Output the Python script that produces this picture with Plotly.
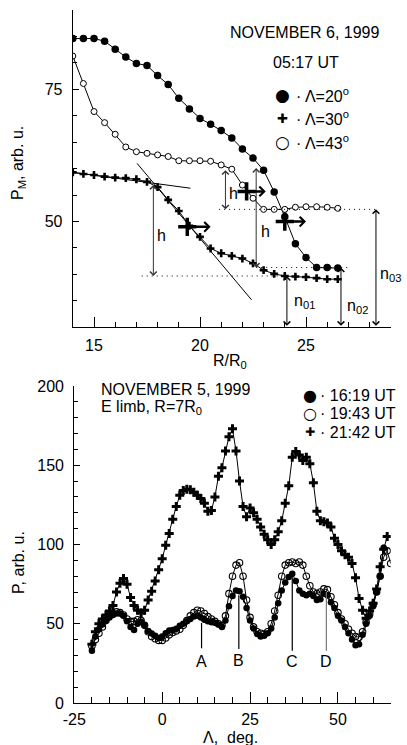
import plotly.graph_objects as go

W, H = 407, 745
FONT = "Liberation Sans"

# ---------------- top panel data (NOVEMBER 6, 1999, 05:17 UT) ----------------
R = [14, 14.5, 15, 15.5, 16, 16.5, 17, 17.5, 18, 18.5, 19, 19.5, 20, 20.5,
     21, 21.5, 22, 22.5, 23, 23.5, 24, 24.5, 25, 25.5, 26, 26.5]
P_L20 = [84.6, 84.6, 84.6, 84.1, 82.6, 81.1, 79.9, 79.5, 77.6, 75.9, 73.3, 71.3, 69.5,
         68.4, 67.2, 65.8, 63.7, 62.0, 59.7, 55.6, 50.9, 45.8, 43.2, 41.3, 41.3, 41.2]
P_L30 = [59.3, 59.0, 58.8, 58.5, 58.3, 58.2, 58.0, 57.5, 56.5, 54.1, 52.0, 49.2, 47.1,
         44.9, 44.0, 43.5, 43.0, 42.1, 40.8, 40.1, 39.7, 39.6, 39.5, 39.3, 39.1, 39.1]
P_L43 = [81.3, 76.1, 70.8, 68.7, 66.5, 64.1, 63.2, 62.9, 62.6, 62.3, 61.5, 61.5, 61.5,
         61.4, 60.7, 59.9, 56.9, 54.4, 52.3, 52.3, 52.3, 52.7, 52.8, 52.8, 52.7, 52.5]

# front positions (bold crosses with arrows)
front_R = [19.4, 22.2, 24.0]
front_P = [49.0, 55.7, 50.0]
front_R_end = [20.5, 23.1, 25.0]

# h arrows
h_R = [17.8, 21.2, 22.65]
h_lo = [39.7, 52.3, 41.3]
h_hi = [57.2, 60.0, 60.4]
h_lab_R = [18.2, 21.57, 23.1]
h_lab_P = [47.4, 55.3, 48.1]

# n0 levels
n_R = [24.1, 26.65, 28.3]
n_level = [39.7, 41.3, 52.3]
n_dot_from = [17.25, 22.65, 20.9]
n_dot_to = [24.1, 27.1, 28.3]
n_labels = ["n<sub>01</sub>", "n<sub>02</sub>", "n<sub>03</sub>"]
n_lab_R = [24.95, 27.45, 29.0]
n_lab_P = [34.8, 33.9, 39.9]

# tangent lines (R0, P0, R1, P1)
tangents = [(17.03, 61.0, 22.43, 35.2), (14.0, 59.3, 19.55, 56.3)]

# ---------------- bottom panel data (NOVEMBER 5, 1999) ----------------
LAM_1619 = [-20, -19, -18, -17, -16, -15, -14, -13, -12, -11, -10, -9, -8, -7, -6, -5, -4, -3, -2, -1,
            0, 1, 2, 3, 4, 5, 6, 7, 8, 9, 10, 11, 12, 13, 14, 15, 16, 17, 18, 19, 20, 21, 22, 23, 24,
            25, 26, 27, 28, 29, 30, 31, 32, 33, 34, 35, 36, 37, 38, 39, 40, 41, 42, 43, 44, 45, 46,
            47, 48, 49, 50, 51, 52, 53, 54, 55, 56, 57, 58, 59, 60, 61, 62, 63]
P_1619 = [33, 42, 46.5, 49.5, 52, 54, 55.5, 56.5, 56.5, 55, 51.5, 48, 46, 50, 51.3, 49, 45.5, 43.8, 42.5, 41,
          42, 44, 45.8, 46, 46.8, 48.8, 50, 51.5, 53, 54.5, 55, 54, 52.5, 51.5, 51, 50.6, 49.5, 48, 52, 61,
          67.5, 71, 70.5, 67, 60, 52, 47, 43.5, 42, 42.5, 44, 47, 54, 63, 71, 76, 79.5, 81.5, 77, 71,
          69, 68, 69, 67.5, 65, 65.5, 69, 68, 63.5, 60, 55, 52, 48, 44, 40, 36.5, 37, 43, 50, 55,
          61, 70, 80, 98]

LAM_1943 = [-20, -19, -18, -17, -16, -15, -14, -13, -12, -11, -10, -9, -8, -7, -6, -5, -4, -3, -2, -1,
            0, 1, 2, 3, 4, 5, 6, 7, 8, 9, 10, 11, 12, 13, 14, 15, 16, 17, 18, 19, 20, 21, 22, 23, 24,
            25, 26, 27, 28, 29, 30, 31, 32, 33, 34, 35, 36, 37, 38, 39, 40, 41, 42, 43, 44, 45, 46,
            47, 48, 49, 50, 51, 52, 53, 54, 55, 56, 57, 58, 59, 60, 61, 62, 63, 64, 65]
P_1943 = [36, 40, 44, 48, 52, 55, 56.5, 57.5, 57, 55.5, 53, 51.5, 51.5, 52.5, 52, 49, 45, 42, 40.5, 39.5,
          39.5, 41, 43, 44.5, 45.5, 46.5, 49, 52, 55, 57, 58.5, 58, 56.5, 54.5, 53, 51.5, 50, 49, 55, 69,
          80, 87, 88.5, 80, 65, 54, 48, 45, 44, 43.5, 45, 50, 58, 68, 80, 87, 88.5, 89, 88, 89,
          87, 80, 74, 70, 69, 70, 72, 71.5, 67, 62, 57, 53, 50, 46.5, 44, 42, 41.5, 45, 51, 56,
          62, 70, 80, 92, 96, 88]

LAM_2142 = [-20, -19, -18, -17, -16, -15, -14, -13, -12, -11, -10, -9, -8, -7, -6, -5, -4, -3, -2, -1,
            0, 1, 2, 3, 4, 5, 6, 7, 8, 9, 10, 11, 12, 13, 14, 15, 16, 17, 18, 19, 20, 21, 22, 23, 24,
            25, 26, 27, 28, 29, 30, 31, 32, 33, 34, 35, 36, 37, 38, 39, 40, 41, 42, 43, 44, 45, 46,
            47, 48, 49, 50, 51, 52, 53, 54, 55, 56, 57, 58, 59, 60, 61, 62, 63, 64]
P_2142 = [37, 45, 50, 53, 55.5, 58, 61.5, 70, 75.5, 78.6, 75, 66.5, 61.5, 58.5, 56.8, 58.5, 65, 70.5, 77, 84,
          91, 99.5, 107, 116, 124, 131, 134, 134.8, 134.5, 133, 131, 129, 126, 121, 121.5, 130, 143, 148.5, 159, 168,
          173, 159, 140, 124, 117.5, 123, 120, 116, 111, 106.5, 103, 100, 103, 108, 115, 126, 137, 155, 158.6, 156.5,
          153, 155, 151, 139, 121, 115, 114.4, 113.5, 111, 104, 100, 96, 93.5, 92, 88, 79, 66, 58.5, 53.5, 58,
          63, 72, 86, 97, 105]

# feature markers A-D
feat_lab = ["A", "B", "C", "D"]
feat_lam = [11.2, 21.8, 37.0, 46.7]
feat_top = [50.4, 68.0, 81.5, 70.0]
feat_bot = [34.5, 34.0, 33.0, 33.0]
feat_lab_P = [26.5, 27.0, 26.5, 26.0]
feat_col = ["black", "black", "black", "#777777"]


def px(x):
    return x / W


def py(y):
    return 1 - y / H


fig = go.Figure()

# ---- top traces ----
fig.add_trace(go.Scatter(x=R, y=P_L20, mode="lines+markers", xaxis="x", yaxis="y",
                         line=dict(color="black", width=1),
                         marker=dict(symbol="circle", size=7.5, color="black")))
fig.add_trace(go.Scatter(x=R, y=P_L43, mode="lines+markers", xaxis="x", yaxis="y",
                         line=dict(color="black", width=1),
                         marker=dict(symbol="circle", size=6, color="white",
                                     line=dict(color="black", width=1))))
fig.add_trace(go.Scatter(x=R, y=P_L30, mode="lines+markers", xaxis="x", yaxis="y",
                         line=dict(color="black", width=1),
                         marker=dict(symbol="cross", size=6.5, color="black")))
fig.add_trace(go.Scatter(x=front_R, y=front_P, mode="markers", xaxis="x", yaxis="y",
                         marker=dict(symbol="cross-thin", size=13,
                                     line=dict(color="black", width=3.5))))

# ---- bottom traces ----
fig.add_trace(go.Scatter(x=LAM_1619, y=P_1619, mode="lines+markers", xaxis="x2", yaxis="y2",
                         line=dict(color="black", width=1),
                         marker=dict(symbol="circle", size=6.5, color="black")))
fig.add_trace(go.Scatter(x=LAM_1943, y=P_1943, mode="lines+markers", xaxis="x2", yaxis="y2",
                         line=dict(color="black", width=1),
                         marker=dict(symbol="circle-open", size=6.5, color="black",
                                     line=dict(width=1.1))))
fig.add_trace(go.Scatter(x=LAM_2142, y=P_2142, mode="lines+markers", xaxis="x2", yaxis="y2",
                         line=dict(color="black", width=1),
                         marker=dict(symbol="cross", size=7.5, color="black")))

shapes = []
annos = []

# tangents
for (r0, p0, r1, p1) in tangents:
    shapes.append(dict(type="line", xref="x", yref="y", x0=r0, y0=p0, x1=r1, y1=p1,
                       line=dict(color="black", width=1)))
# dotted levels
for lv, a, b in zip(n_level, n_dot_from, n_dot_to):
    shapes.append(dict(type="line", xref="x", yref="y", x0=a, y0=lv, x1=b, y1=lv,
                       line=dict(color="black", width=1, dash="1px,4px")))
# h arrows
for r, lo, hi in zip(h_R, h_lo, h_hi):
    annos.append(dict(xref="x", yref="y", axref="x", ayref="y", x=r, y=lo, ax=r, ay=hi,
                      text="", showarrow=True, arrowside="end+start", arrowhead=4,
                      arrowsize=1.3, arrowwidth=1, arrowcolor="#333333", standoff=0, startstandoff=0))
for r, p in zip(h_lab_R, h_lab_P):
    annos.append(dict(xref="x", yref="y", x=r, y=p, text="h", showarrow=False,
                      xanchor="center", yanchor="middle", font=dict(size=16)))
# n arrows
for r, lv in zip(n_R, n_level):
    annos.append(dict(xref="x", yref="y", axref="x", ayref="y", x=r, y=lv, ax=r, ay=30,
                      text="", showarrow=True, arrowside="end+start", arrowhead=4,
                      arrowsize=1.3, arrowwidth=1, arrowcolor="black", standoff=0, startstandoff=0))
for t, r, p in zip(n_labels, n_lab_R, n_lab_P):
    annos.append(dict(xref="x", yref="y", x=r, y=p, text=t, showarrow=False,
                      xanchor="center", yanchor="middle", font=dict(size=16)))
# front arrows
for r0, p, r1 in zip(front_R, front_P, front_R_end):
    annos.append(dict(xref="x", yref="y", axref="x", ayref="y", x=r1, y=p, ax=r0, ay=p,
                      text="", showarrow=True, arrowhead=4, arrowsize=0.75, arrowwidth=2.5,
                      arrowcolor="black", standoff=0))

# feature lines A-D
for lab, lam, top, bot, lp, c in zip(feat_lab, feat_lam, feat_top, feat_bot, feat_lab_P, feat_col):
    shapes.append(dict(type="line", xref="x2", yref="y2", x0=lam, x1=lam, y0=bot, y1=top,
                       line=dict(color=c, width=1.2)))
    annos.append(dict(xref="x2", yref="y2", x=lam, y=lp, text=lab, showarrow=False,
                      xanchor="center", yanchor="middle", font=dict(size=16)))

TXT = 16


def ptext(x, y, text, size=TXT, xanchor="center", family=None, angle=0):
    f = dict(size=size)
    if family:
        f["family"] = family
    return dict(xref="paper", yref="paper", x=px(x), y=py(y), text=text, showarrow=False,
                xanchor=xanchor, yanchor="middle", textangle=angle, font=f)


# texts top
annos += [
    ptext(305, 33, "NOVEMBER 6, 1999"),
    ptext(306, 62, "05:17 UT"),
    ptext(282, 95, "●", 17, family="DejaVu Sans"),
    ptext(282, 118, "✚", 13, family="DejaVu Sans"),
    ptext(282, 142, "○", 17, family="DejaVu Sans"),
    ptext(294, 95, "· Λ=20<sup>o</sup>", xanchor="left"),
    ptext(294, 118, "· Λ=30<sup>o</sup>", xanchor="left"),
    ptext(294, 142, "· Λ=43<sup>o</sup>", xanchor="left"),
    ptext(18, 163, "P<sub>M</sub>, arb. u.", angle=-90),
    ptext(230, 362, "R/R<sub>0</sub>"),
]
# texts bottom
annos += [
    ptext(99, 389, "NOVEMBER 5, 1999", xanchor="left"),
    ptext(99, 407, "E limb, R=7R<sub>0</sub>", xanchor="left"),
    ptext(310, 395, "●", 16, family="DejaVu Sans"),
    ptext(310, 413, "○", 16, family="DejaVu Sans"),
    ptext(310, 432, "✚", 12, family="DejaVu Sans"),
    ptext(318, 395, "· 16:19 UT", xanchor="left"),
    ptext(318, 413, "· 19:43 UT", xanchor="left"),
    ptext(318, 432, "· 21:42 UT", xanchor="left"),
    ptext(18, 563, "P, arb. u.", angle=-90),
    ptext(230, 737, "Λ,  deg."),
]

axis_common = dict(showline=True, linecolor="black", linewidth=1.2, ticks="inside",
                   tickcolor="black", tickwidth=1, showgrid=False, zeroline=False,
                   automargin=False, tickfont=dict(size=16, color="black"))

fig.update_layout(
    width=W, height=H, margin=dict(l=0, r=0, t=0, b=0, autoexpand=False),
    paper_bgcolor="white", plot_bgcolor="white", showlegend=False,
    font=dict(family=FONT, size=15, color="black"),
    xaxis=dict(domain=[px(72.8), px(390.8)], range=[14, 29], anchor="y",
               tick0=15, dtick=5, ticklen=10, ticklabelstandoff=3,
               minor=dict(ticks="inside", dtick=1, ticklen=5, tickcolor="black"), **axis_common),
    yaxis=dict(domain=[py(327.3), py(10)], range=[30, 90], anchor="x",
               tick0=0, dtick=25, ticklen=6, ticklabelstandoff=6,
               minor=dict(ticks="inside", dtick=5, ticklen=4, tickcolor="black"), **axis_common),
    xaxis2=dict(domain=[px(74.3), px(390.7)], range=[-25, 65], anchor="y2",
                ticklen=11, ticklabelstandoff=2,
                tickvals=[-25, 0, 25, 50], ticktext=["-25", "0", "25", "50"],
                minor=dict(ticks="inside", dtick=5, ticklen=6, tickcolor="black"), **axis_common),
    yaxis2=dict(domain=[py(703), py(386)], range=[0, 200], anchor="x2",
                tick0=0, dtick=50, ticklen=6, ticklabelstandoff=6,
                minor=dict(ticks="inside", dtick=10, ticklen=4, tickcolor="black"), **axis_common),
    shapes=shapes, annotations=annos,
)

fig.write_html("out.html")
